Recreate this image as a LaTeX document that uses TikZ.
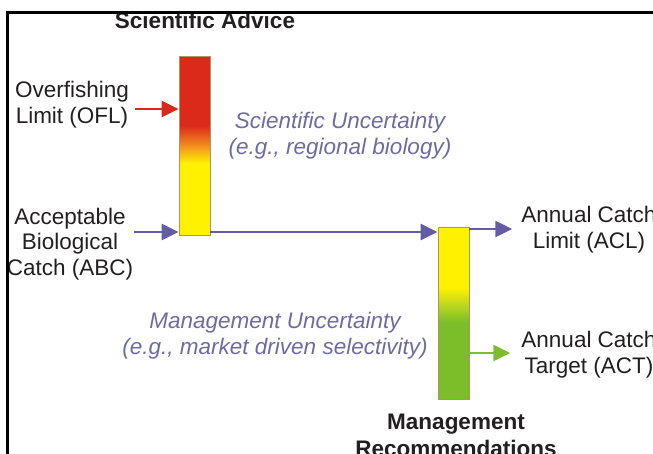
\documentclass[tikz,border=0pt]{standalone}
\usepackage{fontspec}
\setmainfont{Liberation Sans}
\usetikzlibrary{arrows.meta,calc}
\definecolor{txt}{HTML}{231F20}
\definecolor{notecol}{HTML}{6E6B9F}
\definecolor{flow}{HTML}{635CA5}
\definecolor{oflred}{HTML}{D9291C}
\definecolor{barred}{HTML}{DC2A1A}
\definecolor{barorange}{HTML}{F2941E}
\definecolor{baryellow}{HTML}{FFF100}
\definecolor{barlime}{HTML}{C5DA1C}
\definecolor{bargreen}{HTML}{7BBE29}
\definecolor{actgreen}{HTML}{7CBD2E}
\definecolor{baredge}{HTML}{A8975E}

\begin{document}
\begin{tikzpicture}[x=1pt,y=-1pt,
  lbl/.style={font=\fontsize{22.5}{25.5}\selectfont, text=txt, align=center,
    inner sep=0pt, anchor=base},
  headtxt/.style={lbl, font=\fontsize{22.5}{27}\selectfont\bfseries},
  notetxt/.style={lbl, text=notecol, font=\fontsize{22.5}{26}\selectfont\itshape},
  bar/.style={draw=baredge, line width=0.8pt, inner sep=0pt, minimum width=31pt},
  flowarrow/.style={line width=2.5pt, -{Triangle[length=17pt,width=16pt]}},
]
\useasboundingbox (0,0) rectangle (653,453);
\clip (0,0) rectangle (653,453);

% colour ramps inside the two bars
\fill[barred] (179,56) rectangle (210,126);
\shade[top color=barred, bottom color=barorange] (179,125.5) rectangle (210,147);
\shade[top color=barorange, bottom color=baryellow] (179,146.5) rectangle (210,163);
\fill[baryellow] (179,162.5) rectangle (210,235);

\fill[baryellow] (438,227) rectangle (469,288);
\shade[top color=baryellow, bottom color=barlime] (438,287.5) rectangle (469,303);
\shade[top color=barlime, bottom color=bargreen] (438,302.5) rectangle (469,322);
\fill[bargreen] (438,321.5) rectangle (469,399);

% bars
\node[bar, minimum height=179pt] (adv) at (194.5,145.5) {};
\node[bar, minimum height=172pt] (mgmt) at (453.5,313) {};

% labels (multi-line nodes sit on the baseline of their last line)
\node[headtxt] (advt) at (205,28) {Scientific Advice};
\node[headtxt] (mgmtt) at (456,456) {Management\\Recommendations};
\node[lbl] (ofl) at (72,123) {Overfishing\\Limit (OFL)};
\node[lbl] (abc) at (70,275) {Acceptable\\Biological\\Catch (ABC)};
\node[lbl] (acl) at (589,248) {Annual Catch\\Limit (ACL)};
\node[lbl] (act) at (589,373) {Annual Catch\\Target (ACT)};
\node[notetxt] (su) at (340,154) {Scientific Uncertainty\\(e.g., regional biology)};
\node[notetxt] (mu) at (275,354) {Management Uncertainty\\(e.g., market driven selectivity)};

% arrow rows
\coordinate (oflrow) at (0,109);
\coordinate (abcrow) at (0,232);
\coordinate (aclrow) at (0,229);
\coordinate (actrow) at (0,353);

% connectors
\draw[flowarrow, oflred] ($(ofl.east |- oflrow)+(6,0)$) -- (adv.west |- oflrow);
\draw[flowarrow, flow] ($(abc.east |- abcrow)+(1,0)$) -- (adv.west |- abcrow);
\draw[flowarrow, flow] (adv.east |- abcrow) -- (mgmt.west |- abcrow);
\draw[flowarrow, flow] (mgmt.east |- aclrow) -- ($(acl.west |- aclrow)+(-9,0)$);
\draw[flowarrow, actgreen] (mgmt.east |- actrow) -- ($(act.west |- actrow)+(-11,0)$);

% frame
\draw[line width=3pt] (7.5,460) -- (7.5,12.5) -- (660,12.5);
\end{tikzpicture}
\end{document}
